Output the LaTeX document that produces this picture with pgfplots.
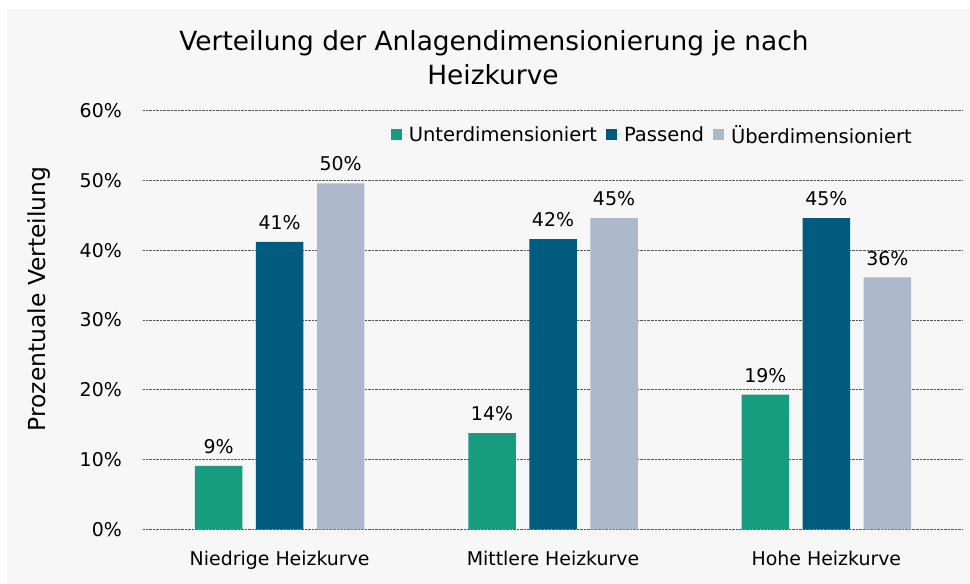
\documentclass[border=0pt]{standalone}
\usepackage{pgfplots}
\pgfplotsset{compat=1.18}
\usepackage{fontspec}
\setmainfont{DejaVu Sans}
\definecolor{bg}{HTML}{F7F7F7}
\definecolor{cgreen}{HTML}{179C7D}
\definecolor{cblue}{HTML}{005B7F}
\definecolor{clight}{HTML}{ADB9CA}
\definecolor{gridc}{HTML}{555555}
\begin{document}
\begin{tikzpicture}
\fill[bg] (-136bp,-54.7bp) rectangle (827bp,520.3bp);
\begin{axis}[
  at={(0,0)}, anchor=south west,
  scale only axis, width=820bp, height=418.6bp,
  xmin=-0.5, xmax=2.5, ymin=0, ymax=60,
  ybar=13.5bp, bar width=47.5bp,
  axis line style={draw=none}, major tick style={draw=none},
  xtick=data,
  xticklabels={Niedrige Heizkurve, Mittlere Heizkurve, Hohe Heizkurve},
  ytick={0,10,...,60},
  yticklabel={\pgfmathprintnumber{\tick}\%},
  /pgf/number format/assume math mode=true,
  ymajorgrids, grid style={densely dotted, gridc, line width=0.7bp},
  ticklabel style={font=\fontsize{19}{22}\selectfont},
  yticklabel style={anchor=east, inner sep=0pt, xshift=-21bp},
  xticklabel style={anchor=base, yshift=-32.4bp},
  nodes near coords={\pgfmathprintnumber[fixed,precision=0]{\pgfplotspointmeta}\%},
  every node near coord/.append style={font=\fontsize{19}{22}\selectfont, anchor=base, yshift=12.4bp},
  legend columns=3,
  legend style={at={(0.621,0.942)}, anchor=center, draw=none, fill=none,
    font=\fontsize{19.6}{22}\selectfont,
    /tikz/every even column/.append style={column sep=7bp}},
  legend image code/.code={\fill[#1] (0bp,-5.5bp) rectangle (11bp,5.5bp);\path (0bp,0bp) -- (16bp,0bp);},
  clip=false,
]
\addplot[fill=cgreen, draw=none] coordinates {(0,9.1) (1,13.8) (2,19.3)};
\addplot[fill=cblue, draw=none] coordinates {(0,41.2) (1,41.6) (2,44.6)};
\addplot[fill=clight, draw=none] coordinates {(0,49.6) (1,44.6) (2,36.1)};
\legend{Unterdimensioniert, Passend, Überdimensioniert}
\end{axis}
\node[anchor=base, font=\fontsize{26.5}{31}\selectfont, inner sep=0pt] at (351bp,478.3bp) {Verteilung der Anlagendimensionierung je nach};
\node[anchor=base, font=\fontsize{26.5}{31}\selectfont, inner sep=0pt] at (350bp,445bp) {Heizkurve};
\node[anchor=base, rotate=90, font=\fontsize{23.5}{27}\selectfont, inner sep=0pt] at (-97bp,230.3bp) {Prozentuale Verteilung};
\pgfresetboundingbox
\path (-143bp,-54.7bp) rectangle (827bp,529.3bp);
\end{tikzpicture}
\end{document}
